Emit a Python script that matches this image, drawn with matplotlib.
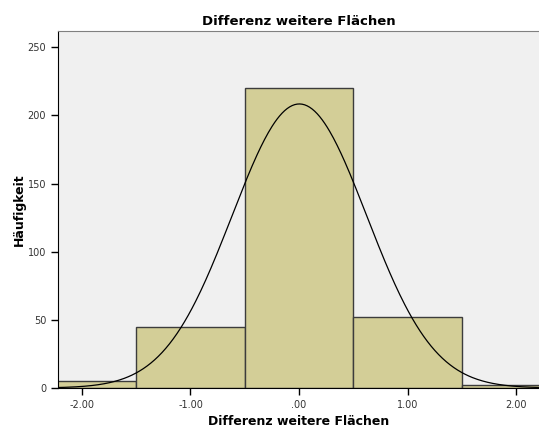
import numpy as np
import matplotlib.pyplot as plt

# Haeufigkeiten je Klasse (Klassenbreite 1.0)
bin_centers = [-2.0, -1.0, 0.0, 1.0, 2.0]
counts = [5, 45, 220, 52, 2]
mean, sd = 0.003, 0.62

tick_vals = [-2.0, -1.0, 0.0, 1.0, 2.0]
tick_labels = ['-2.00', '-1.00', '.00', '1.00', '2.00']
y_ticks = [0, 50, 100, 150, 200, 250]

fig = plt.figure(figsize=(5.39, 4.28), dpi=100)
ax = fig.add_axes([0.1076, 0.0935, 0.8924, 0.834])
ax.set_facecolor('#f0f0f0')

width = 1.0
ax.bar(bin_centers, counts, width=width, color='#d3ce97', edgecolor='#3c3c3c',
       linewidth=1.0, zorder=2)

# Normalverteilungskurve
n = sum(counts)
xs = np.linspace(-2.3, 2.3, 400)
ys = n * width / (sd * np.sqrt(2 * np.pi)) * np.exp(-0.5 * ((xs - mean) / sd) ** 2)
ax.plot(xs, ys, color='black', linewidth=0.9, zorder=3)

ax.set_xlim(-2.22, 2.21)
ax.set_ylim(0, 262)
ax.set_xticks(tick_vals)
ax.set_xticklabels(tick_labels)
ax.set_yticks(y_ticks)
ax.tick_params(direction='out', length=5, width=1, labelsize=7, colors='black',
               labelcolor='#333333')

ax.spines['right'].set_visible(False)
ax.spines['top'].set_color('#808080')
ax.spines['left'].set_color('black')
ax.spines['bottom'].set_color('black')

ax.set_title('Differenz weitere Flächen', fontsize=9.5, fontweight='bold', pad=4)
ax.set_xlabel('Differenz weitere Flächen', fontsize=9, fontweight='bold', labelpad=4)
ax.set_ylabel('Häufigkeit', fontsize=9, fontweight='bold', labelpad=1)

fig.savefig('out.png', dpi=100)
